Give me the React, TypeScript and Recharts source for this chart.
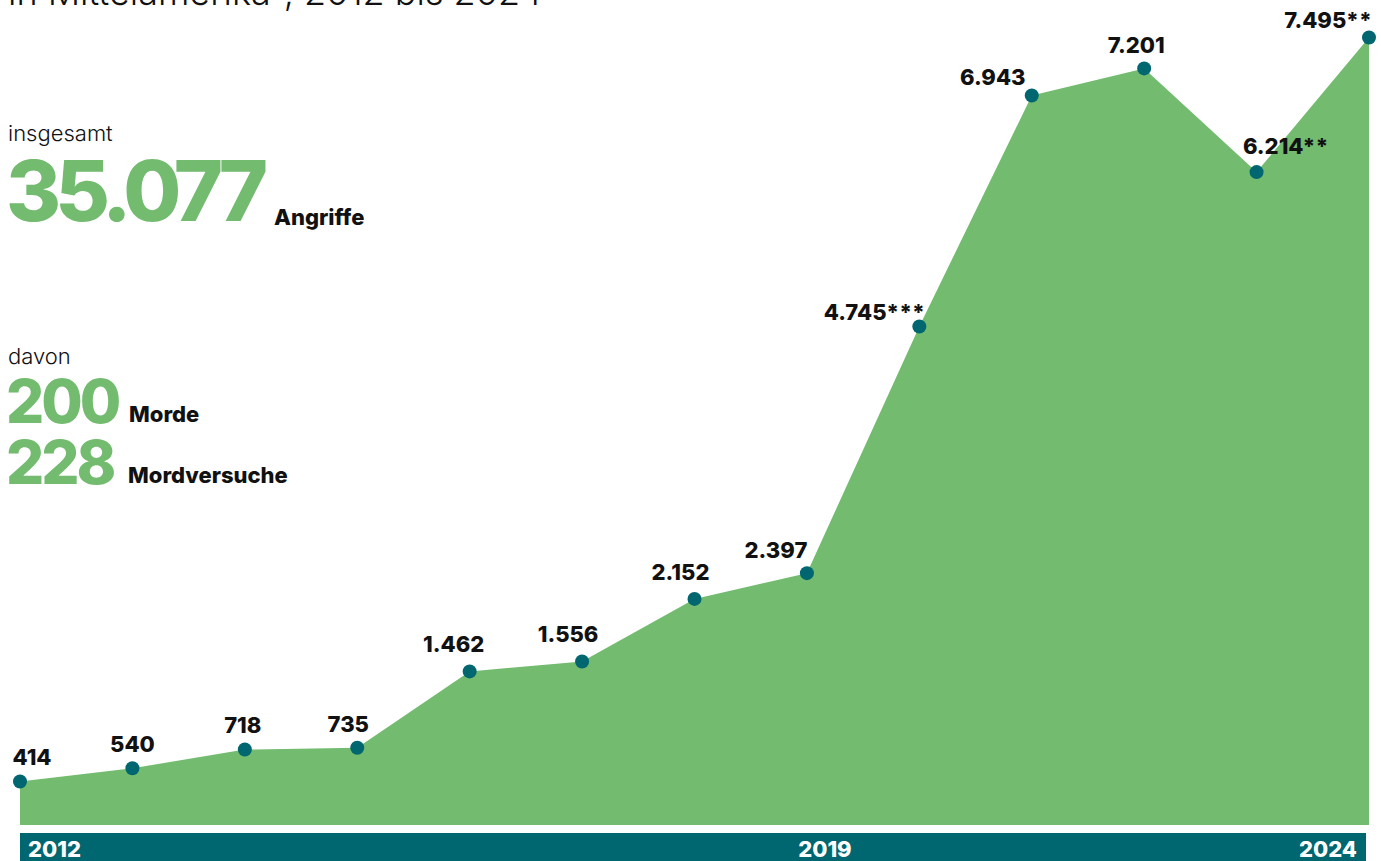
import { AreaChart, Area, XAxis, YAxis, LabelList } from "recharts";

const years = ["2012", "2013", "2014", "2015", "2016", "2017", "2018", "2019", "2020", "2021", "2022", "2023", "2024"];
const attacks = [414, 540, 718, 735, 1462, 1556, 2152, 2397, 4745, 6943, 7201, 6214, 7495];
const valueLabels = ["414", "540", "718", "735", "1.462", "1.556", "2.152", "2.397", "4.745***", "6.943", "7.201", "6.214**", "7.495**"];
const axisTicks = ["2012", "2019", "2024"];

const title = "in Mittelamerika*, 2012 bis 2024";
const totalLabel = "insgesamt";
const totalValue = "35.077";
const totalUnit = "Angriffe";
const subLabel = "davon";
const murders = "200";
const murdersUnit = "Morde";
const attempts = "228";
const attemptsUnit = "Mordversuche";

// label placement tweaks (px), per point
const labelDx = [12, 0, -2, -9, -16, -14, -14, -31, -45, -39, -8, 29, -41];
const labelDy = [-17, -16, -17, -16, -19, -20, -19, -15, -6, -11, -15, -18, -10];
const tickDx = [8, 18, -12];

const data = years.map((year, i) => ({ year, attacks: attacks[i], label: valueLabels[i] }));

const GREEN = "#72bb6f";
const TEAL = "#00666f";
const FONT = "Inter, 'Noto Sans', sans-serif";

const PointLabel = (props: any) => {
  const { x, y, value, index } = props;
  return (
    <text
      x={x + labelDx[index]}
      y={y + labelDy[index]}
      textAnchor="middle"
      fontFamily={FONT}
      fontWeight={800}
      fontSize={22}
      fill="#111"
    >
      {value}
    </text>
  );
};

const YearTick = (props: any) => {
  const { x, y, payload } = props;
  const i = axisTicks.indexOf(payload.value);
  const anchor = i === 0 ? "start" : i === axisTicks.length - 1 ? "end" : "middle";
  return (
    <text
      x={x + tickDx[i]}
      y={y + 32}
      textAnchor={anchor}
      fontFamily={FONT}
      fontWeight={800}
      fontSize={22}
      fill="#fff"
    >
      {payload.value}
    </text>
  );
};

export default function App() {
  return (
    <div style={{ position: "absolute", top: 0, left: 0, width: 1381, height: 861, overflow: "hidden", background: "#fff" }}>
      <div style={{ position: "absolute", left: 20, top: 833, width: 1346, height: 28, background: TEAL }} />
      <div style={{ position: "absolute", left: 0, top: 0 }}>
        <AreaChart width={1381} height={861} data={data} margin={{ top: 37, right: 12, left: 20, bottom: 0 }}>
          <XAxis
            dataKey="year"
            ticks={axisTicks}
            interval={0}
            axisLine={false}
            tickLine={false}
            tickSize={0}
            tickMargin={0}
            height={36}
            tick={<YearTick />}
          />
          <YAxis hide domain={[0, 7500]} />
          <Area
            type="linear"
            dataKey="attacks"
            stroke="none"
            fill={GREEN}
            fillOpacity={1}
            dot={{ r: 7, fill: TEAL, stroke: "none" }}
            activeDot={false}
            isAnimationActive={false}
          >
            <LabelList dataKey="label" content={<PointLabel />} />
          </Area>
        </AreaChart>
      </div>
      <svg width={1381} height={861} style={{ position: "absolute", left: 0, top: 0, pointerEvents: "none" }}>
        <g fontFamily={FONT}>
          <text x={8} y={5} fontSize={36} fontWeight={300} fill="#111">{title}</text>
          <text x={8} y={141} fontSize={22} fontWeight={300} fill="#111">{totalLabel}</text>
          <text x={6} y={221} fontSize={84} fontWeight={800} fill={GREEN} letterSpacing={-6}>{totalValue}</text>
          <text x={274} y={225} fontSize={22} fontWeight={800} fill="#111">{totalUnit}</text>
          <text x={8} y={364} fontSize={22} fontWeight={300} fill="#111">{subLabel}</text>
          <text x={6} y={423} fontSize={60} fontWeight={800} fill={GREEN} letterSpacing={-3}>{murders}</text>
          <text x={129} y={422} fontSize={22} fontWeight={800} fill="#111">{murdersUnit}</text>
          <text x={6} y={484} fontSize={60} fontWeight={800} fill={GREEN} letterSpacing={-3}>{attempts}</text>
          <text x={128} y={483} fontSize={22} fontWeight={800} fill="#111">{attemptsUnit}</text>
        </g>
      </svg>
    </div>
  );
}
